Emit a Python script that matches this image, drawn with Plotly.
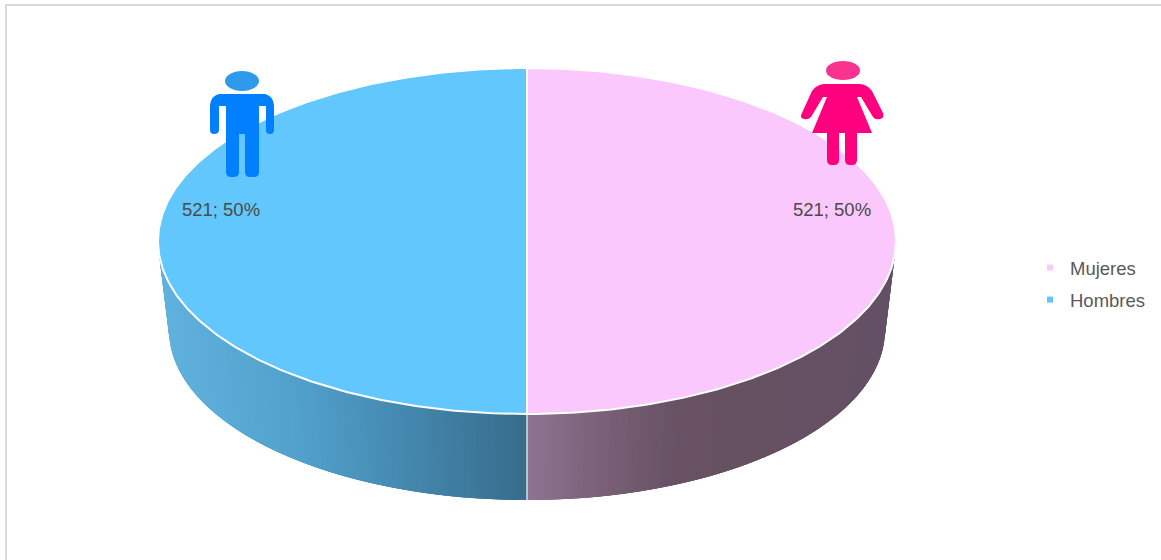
import math
import plotly.graph_objects as go

# ---- data ----
categories = ["Mujeres", "Hombres"]
values = [521, 521]
top_colors = ["#FBC8FD", "#62C7FD"]
legend_colors = ["#FBC8FD", "#62C7FD"]
# wall shading: (x pixel, rgb) stops per slice
wall_stops = [
    [(527, (143, 116, 145)), (600, (122, 97, 120)), (680, (103, 81, 99)), (895, (100, 80, 100))],
    [(527, (54, 108, 139)), (440, (64, 128, 165)), (300, (80, 160, 203)), (160, (96, 178, 222))],
]

# ---- pie geometry (pixels) ----
CX, TOP_CY, TOP_RX, TOP_RY = 527, 241, 369, 173
BOT_CY, BOT_RX, BOT_RY = 330, 358, 170
FONT = "Liberation Sans, Arial, sans-serif"
label_pos = [(832, 211), (221, 211)]


def top_pt(t):
    return CX + TOP_RX * math.sin(t), TOP_CY - TOP_RY * math.cos(t)


def bot_pt(t):
    return CX + BOT_RX * math.sin(t), BOT_CY - BOT_RY * math.cos(t)


def shade(stops, x):
    stops = sorted(stops, key=lambda s: s[0])
    if x <= stops[0][0]:
        c = stops[0][1]
    elif x >= stops[-1][0]:
        c = stops[-1][1]
    else:
        for (x0, c0), (x1, c1) in zip(stops, stops[1:]):
            if x0 <= x <= x1:
                f = (x - x0) / (x1 - x0)
                c = tuple(a + (b - a) * f for a, b in zip(c0, c1))
                break
    return "rgb(%d,%d,%d)" % tuple(round(v) for v in c)


total = sum(values)
fig = go.Figure()
bounds = []
acc = 0
for v in values:
    bounds.append((2 * math.pi * acc / total, 2 * math.pi * (acc + v) / total))
    acc += v

# side walls: each strip overlaps the next one so no seams appear
for i, (a0, a1) in enumerate(bounds):
    lo, hi = max(a0, math.pi / 2), min(a1, 3 * math.pi / 2)
    n = 90
    for k in range(n):
        t0 = lo + (hi - lo) * k / n
        t1 = lo + (hi - lo) * (k + 1) / n
        t2 = lo + (hi - lo) * min(n, k + 3) / n
        pts = [top_pt(t0), top_pt(t2), bot_pt(t2), bot_pt(t0), top_pt(t0)]
        mid = (top_pt(t0)[0] + top_pt(t1)[0]) / 2
        col = shade(wall_stops[i], mid)
        fig.add_trace(go.Scatter(
            x=[p[0] for p in pts], y=[p[1] for p in pts], mode="lines",
            fill="toself", fillcolor=col, line=dict(color=col, width=0),
            showlegend=False, hoverinfo="skip"))

# seam on the wall between slices
seams = sorted({round(t, 6) for pair in bounds for t in pair if math.pi / 2 < t < 3 * math.pi / 2})
for t in seams:
    p, q = top_pt(t), bot_pt(t)
    fig.add_trace(go.Scatter(
        x=[p[0], q[0]], y=[p[1], q[1]], mode="lines",
        line=dict(color="rgba(255,255,255,0.75)", width=1.5),
        showlegend=False, hoverinfo="skip"))

# top faces
for i, (a0, a1) in enumerate(bounds):
    n = 240
    pts = [top_pt(a0 + (a1 - a0) * k / n) for k in range(n + 1)]
    pts.append((CX, TOP_CY))
    pts.append(pts[0])
    fig.add_trace(go.Scatter(
        x=[p[0] for p in pts], y=[p[1] for p in pts], mode="lines",
        fill="toself", fillcolor=top_colors[i],
        line=dict(color="white", width=2),
        name=categories[i], showlegend=False,
        hovertemplate="%s: %d<extra></extra>" % (categories[i], values[i])))

# data labels
for i, v in enumerate(values):
    fig.add_trace(go.Scatter(
        x=[label_pos[i][0]], y=[label_pos[i][1]], mode="text",
        text=["%d; %d%%" % (v, round(100 * v / total))],
        textposition="middle center",
        textfont=dict(family=FONT, size=18.5, color="#4A4A4A"),
        showlegend=False, hoverinfo="skip"))

# legend entries
for i, c in enumerate(categories):
    fig.add_trace(go.Scatter(
        x=[None], y=[None], mode="markers", name=c, legendgroup=c,
        marker=dict(symbol="square", size=6, color=legend_colors[i])))

MAN = ("M219 94 Q211 96 210 105 L210 130 Q210 134 214 134 "
       "Q219 134 219 130 L219 106 L226 106 L226 172 Q226 177 231 177 L234 177 "
       "Q239 177 239 172 L239 134 L245 134 L245 172 Q245 177 250 177 L254 177 "
       "Q259 177 259 172 L259 106 L266 106 L266 130 Q266 134 270 134 Q274 134 274 130 "
       "L274 105 Q273 96 265 94 Z")
WOMAN = ("M824 84 L860 84 Q868 85 872 91 L883 113 Q885 118 880 119 Q875 120 873 117 "
         "L861 97 L857 97 L872 133 L857 133 L857 160 Q857 165 852 165 L850 165 "
         "Q845 165 845 160 L845 133 L839 133 L839 160 Q839 165 834 165 L832 165 "
         "Q827 165 827 160 L827 133 L812 133 L827 97 L823 97 L811 117 Q808 120 804 119 "
         "Q799 118 802 113 L812 91 Q816 85 824 84 Z")

shapes = [
    dict(type="line", x0=5, x1=1170, y0=5, y1=5, line=dict(color="#D9D9D9", width=2)),
    dict(type="line", x0=6, x1=6, y0=4, y1=570, line=dict(color="#D9D9D9", width=2)),
    dict(type="path", path=MAN, fillcolor="#0080FF", line=dict(width=0)),
    dict(type="circle", x0=225, x1=259, y0=71, y1=91, fillcolor="#2E9AEB", line=dict(width=0)),
    dict(type="path", path=WOMAN, fillcolor="#FF007F", line=dict(width=0)),
    dict(type="circle", x0=826, x1=860, y0=61, y1=80, fillcolor="#F9338F", line=dict(width=0)),
]

fig.update_layout(
    width=1161, height=560, autosize=False,
    margin=dict(l=0, r=0, t=0, b=0),
    paper_bgcolor="white", plot_bgcolor="white",
    xaxis=dict(range=[0, 1161], visible=False, fixedrange=True),
    yaxis=dict(range=[560, 0], visible=False, fixedrange=True),
    shapes=shapes,
    showlegend=True,
    legend=dict(x=1030 / 1161, xanchor="left", y=1 - 249 / 560, yanchor="top",
                font=dict(family=FONT, size=18.5, color="#595959"),
                tracegroupgap=5, traceorder="grouped", bgcolor="rgba(0,0,0,0)",
                itemclick=False, itemdoubleclick=False),
)

fig.write_html("out.html", config=dict(displayModeBar=False),
               post_script="document.body.style.margin='0';document.documentElement.style.overflow='hidden';")
